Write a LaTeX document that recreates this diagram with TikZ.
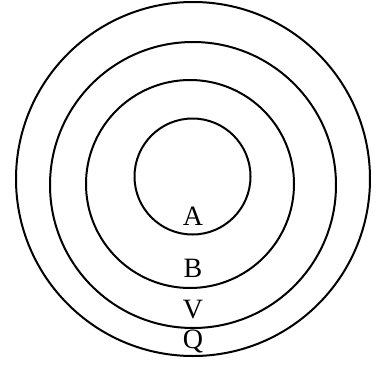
\documentclass[tikz,border=0pt]{standalone}
\usepackage{fontspec}
\setmainfont{Liberation Serif}
\usetikzlibrary{positioning}

\begin{document}
\begin{tikzpicture}[x=1pt, y=-1pt,
      ring/.style={draw, circle, line width=2pt, inner sep=0pt},
      lbl/.style={font=\fontsize{28}{28}\selectfont, inner sep=0pt}]

    \useasboundingbox (0,0) rectangle (381,365);

    \node[ring, minimum size=354pt] (rq) at (193,179) {};
    \node[ring, minimum size=286pt] (rv) at (193,185) {};
    \node[ring, minimum size=208pt] (rb) at (190,184) {};
    \node[ring, minimum size=116pt] (ra) at (192.5,176.5) {};

    \node[lbl] (a) at (193,216) {A};
    \node[lbl] (b) at (193,268) {B};
    \node[lbl] (v) at (193,310) {V};
    \node[lbl] (q) at (193,341) {Q};
  \end{tikzpicture}
\end{document}
